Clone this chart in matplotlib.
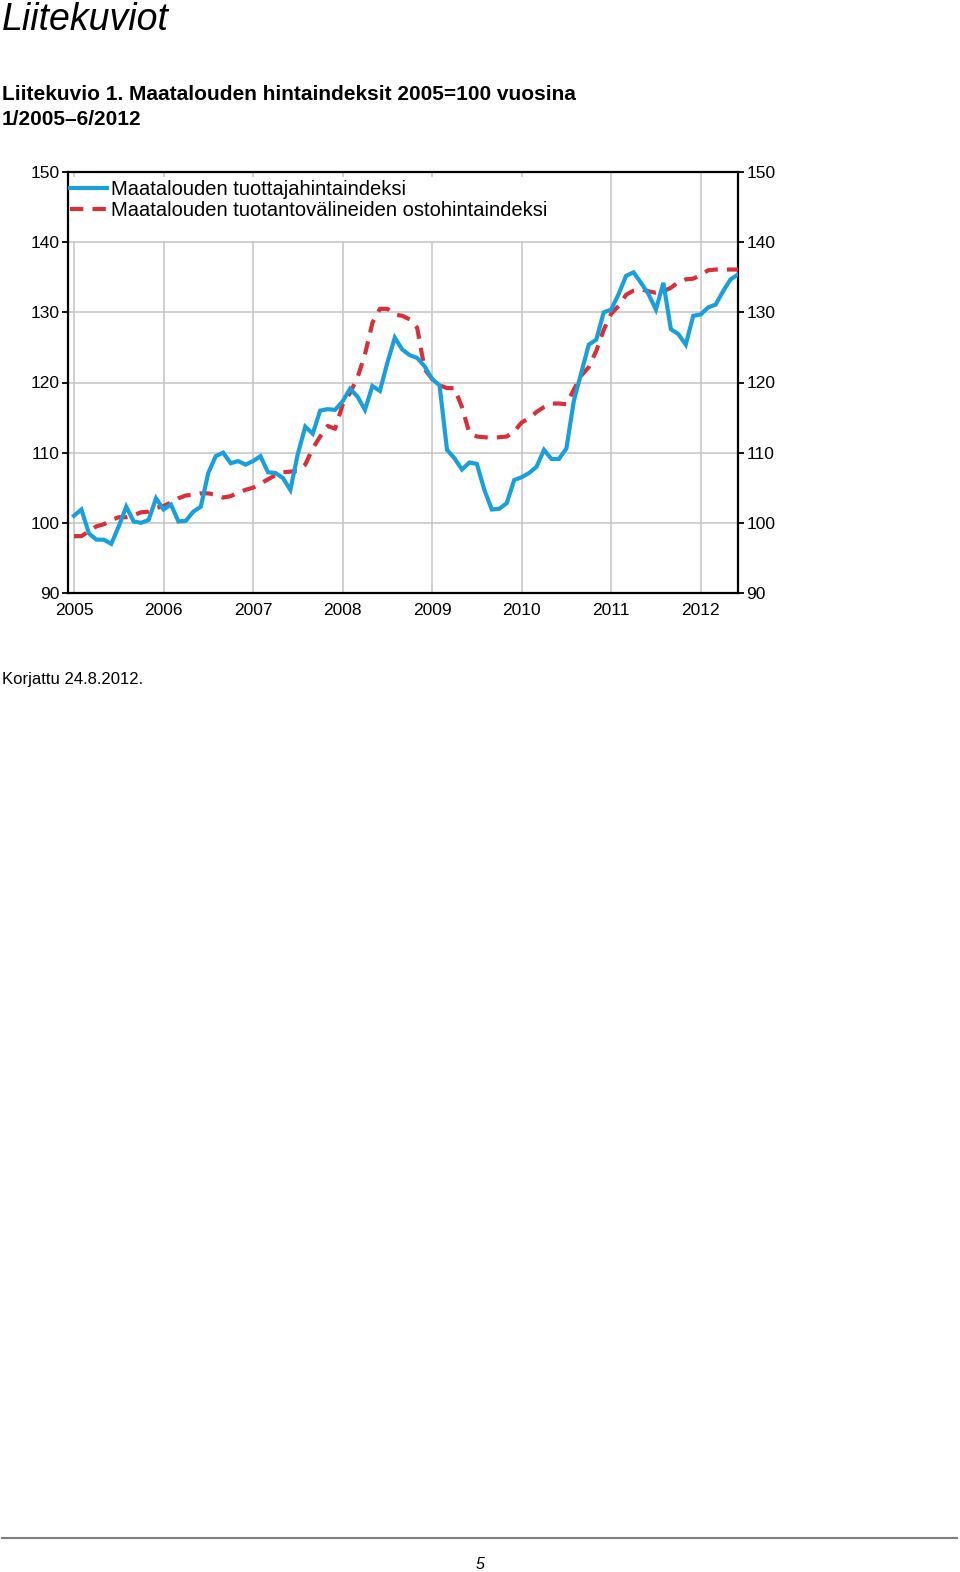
import numpy as np
import matplotlib
matplotlib.use("Agg")
import matplotlib.pyplot as plt
from matplotlib.patches import Rectangle
from matplotlib.lines import Line2D

plt.rcParams['font.family'] = ['Liberation Sans', 'DejaVu Sans']

# monthly index values 1/2005 - 6/2012 (2005=100)
tuottaja = [101.0, 101.9, 98.5, 97.6, 97.6, 97.0, 99.5, 102.3, 100.2, 100.0, 100.4, 103.5,
            101.9, 102.6, 100.2, 100.3, 101.6, 102.3, 107.1, 109.5, 110.0, 108.5, 108.8, 108.3,
            108.8, 109.5, 107.2, 107.1, 106.4, 104.7, 109.8, 113.7, 112.7, 116.0, 116.2, 116.1,
            117.3, 119.1, 118.0, 116.1, 119.5, 118.8, 122.8, 126.4, 124.7, 123.9, 123.5, 122.3,
            120.5, 119.6, 110.4, 109.2, 107.6, 108.6, 108.4, 104.7, 101.9, 102.0, 102.8, 106.1,
            106.5, 107.1, 108.0, 110.4, 109.1, 109.1, 110.6, 117.4, 121.4, 125.4, 126.1, 130.0,
            130.4, 132.6, 135.2, 135.7, 134.2, 132.6, 130.4, 134.2, 127.6, 126.9, 125.4, 129.5,
            129.7, 130.7, 131.1, 133.0, 134.7, 135.4]
ostohinta = [98.1, 98.1, 98.8, 99.5, 99.8, 100.4, 100.8, 100.8, 101.1, 101.5, 101.6, 102.1,
             102.4, 102.9, 103.5, 103.9, 104.0, 104.2, 104.2, 104.0, 103.6, 103.8, 104.3, 104.7,
             105.0, 105.6, 106.2, 106.8, 107.2, 107.3, 107.4, 108.3, 110.6, 112.3, 113.8, 113.4,
             116.8, 118.5, 120.7, 124.0, 128.5, 130.5, 130.5, 129.7, 129.5, 129.0, 127.8, 121.9,
             120.5, 119.6, 119.2, 119.2, 116.5, 112.8, 112.3, 112.2, 112.1, 112.2, 112.3, 113.0,
             114.3, 114.9, 115.8, 116.5, 117.0, 117.0, 116.9, 119.0, 121.0, 122.2, 124.5, 127.5,
             129.8, 130.9, 132.5, 133.1, 133.3, 133.0, 132.8, 133.0, 133.5, 134.3, 134.7, 134.8,
             135.3, 136.0, 136.1, 136.1, 136.1, 136.1]
vuodet = ['2005', '2006', '2007', '2008', '2009', '2010', '2011', '2012']
nimet = ['Maatalouden tuottajahintaindeksi',
         'Maatalouden tuotantovälineiden ostohintaindeksi']

sininen = '#1a9fdd'
punainen = '#d8303a'

W, H = 960, 1572
fig = plt.figure(figsize=(W / 100, H / 100), dpi=100)

# axes box in pixels: left 68, right 738, top 172, bottom 593
ax = fig.add_axes([68 / W, 1 - 593 / H, 670 / W, 421 / H])
kk = np.arange(len(tuottaja))
ax.plot(kk, tuottaja, color=sininen, lw=3.0, solid_joinstyle='miter', zorder=4)
ax.plot(kk, ostohinta, color=punainen, lw=3.0, dashes=(3.2, 2.2), zorder=3)

ax.set_xlim(-0.8, len(tuottaja) - 1)
ax.set_ylim(90, 150)
ax.set_xticks(np.arange(len(vuodet)) * 12)
ax.set_xticklabels(vuodet)
ax.set_yticks(np.arange(90, 151, 10))
ax.grid(True, color='#c4c4c4', lw=1.1, zorder=0)
ax.set_axisbelow(True)
for s in ax.spines.values():
    s.set_linewidth(1.6)
    s.set_color('black')
ax.tick_params(axis='x', length=0, pad=7, labelsize=12.5)
ax.tick_params(axis='y', length=4, width=1.3, direction='out', pad=2, labelsize=12.5,
               left=True, right=True, labelleft=True, labelright=True)

# legend area hides the grid
ax.add_patch(Rectangle((0, (593 - 241) / 421), (552 - 68) / 670, (241 - 177) / 421,
                       transform=ax.transAxes, facecolor='white', edgecolor='none', zorder=1))
kahvat = [Line2D([], [], color=sininen, lw=3.0),
          Line2D([], [], color=punainen, lw=3.0, dashes=(3.2, 2.2))]
ax.legend(kahvat, nimet, loc='upper left', bbox_to_anchor=(0.0, 0.985), frameon=False,
          fontsize=14.5, handlelength=1.85, handletextpad=0.2, borderpad=0.0,
          borderaxespad=0.1, labelspacing=0.08)

# page texts
fig.text(2 / W, 1 - 30 / H, 'Liitekuviot', fontsize=27, style='italic', va='baseline')
fig.text(2 / W, 1 - 100 / H, 'Liitekuvio 1. Maatalouden hintaindeksit 2005=100 vuosina',
         fontsize=15, weight='bold', va='baseline')
fig.text(2 / W, 1 - 125 / H, '1/2005\u20136/2012', fontsize=15, weight='bold', va='baseline')
fig.text(2 / W, 1 - 684 / H, 'Korjattu 24.8.2012.', fontsize=12, va='baseline')
fig.add_artist(Line2D([2 / W, 957 / W], [1 - 1538 / H, 1 - 1538 / H], color='#7f7f7f', lw=1.5))
fig.text(480 / W, 1 - 1569 / H, '5', fontsize=11.5, style='italic', ha='center', va='baseline')

fig.savefig('out.png', dpi=100)
